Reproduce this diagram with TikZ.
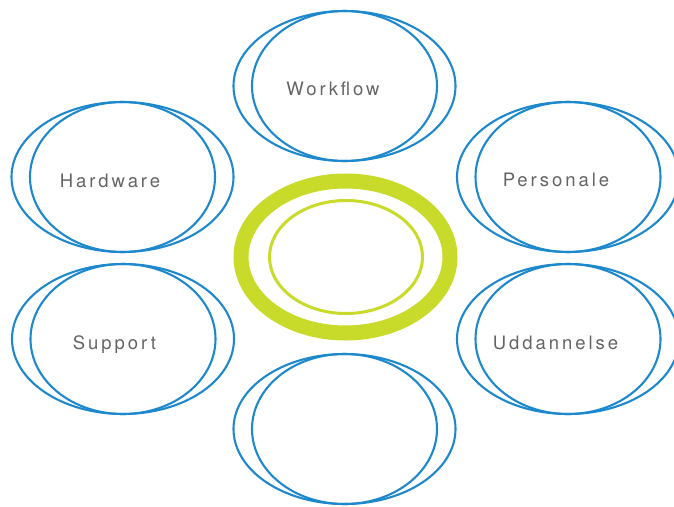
\documentclass[tikz,border=0pt]{standalone}
\usepackage{fontspec}
\usetikzlibrary{shapes.geometric}
\newfontfamily\labfont[LetterSpace=16]{TeX Gyre Heros}
\definecolor{ringblue}{RGB}{30,136,204}
\definecolor{ringgreen}{RGB}{200,218,42}
\definecolor{labgray}{RGB}{100,100,100}
\begin{document}
\begin{tikzpicture}[x=1pt,y=-1pt,
  outerring/.style={draw=ringblue,line width=2.1pt,ellipse,inner sep=0pt,minimum width=222pt,minimum height=150pt},
  innerring/.style={draw=ringblue,line width=2.1pt,ellipse,inner sep=0pt,minimum width=185pt,minimum height=150pt},
  lab/.style={font=\labfont\fontsize{18.5}{22}\selectfont,text=labgray,inner sep=0pt,anchor=base}]
\useasboundingbox (0,0) rectangle (674,506);
% blue pairs
\node[outerring] (topo) at (344.5,86) {};
\node[innerring] (topi) at (344.5,86) {};
\node[outerring] (hwo) at (122.5,177) {};
\node[innerring] (hwi) at (122.5,177) {};
\node[outerring] (peo) at (568,177) {};
\node[innerring] (pei) at (568,177) {};
\node[outerring] (suo) at (123,339) {};
\node[innerring] (sui) at (123,339) {};
\node[outerring] (udo) at (568,339) {};
\node[innerring] (udi) at (568,339) {};
\node[outerring] (boo) at (344.5,429) {};
\node[innerring] (boi) at (344.5,429) {};
% green centre
\node[draw=ringgreen,line width=15pt,ellipse,inner sep=0pt,minimum width=209pt,minimum height=152pt] (gthick) at (345.5,257) {};
\node[draw=ringgreen,line width=3pt,ellipse,inner sep=0pt,minimum width=153pt,minimum height=113pt] (gthin) at (346,257) {};
% labels
\node[lab] (lwf) at (333,95.7) {Workflow};
\node[lab] (lhw) at (110,187.3) {Hardware};
\node[lab] (lpe) at (556,186.7) {Personale};
\node[lab] (lsu) at (114.5,349.3) {Support};
\node[lab] (lud) at (555.5,349.3) {Uddannelse};
\end{tikzpicture}
\end{document}
